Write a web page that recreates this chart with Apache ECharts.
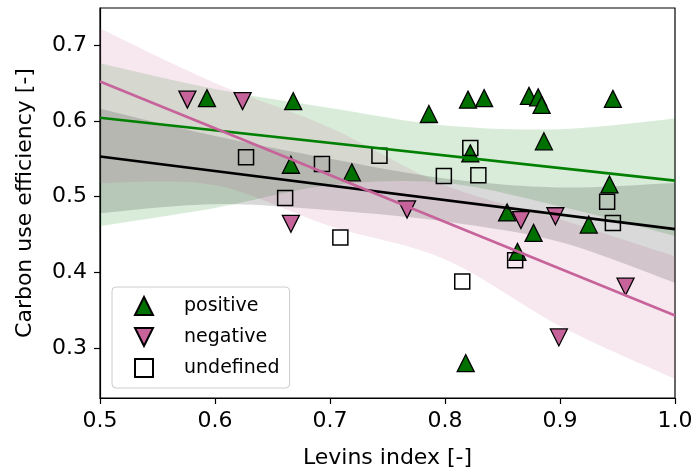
<!DOCTYPE html>
<html><head><meta charset="utf-8">
<script src="https://cdn.jsdelivr.net/npm/echarts@6/dist/echarts.min.js"></script>
<style>html,body{margin:0;padding:0;background:#fff}#c{width:696px;height:476px}</style>
</head><body><div id="c"></div>
<script>
// ---- data ----
const xTicks = [0.5, 0.6, 0.7, 0.8, 0.9, 1.0];
const yTicks = [0.3, 0.4, 0.5, 0.6, 0.7];

const posX = [0.593, 0.668, 0.666, 0.719, 0.786, 0.820, 0.834, 0.873, 0.881, 0.884, 0.946, 0.886, 0.822, 0.943, 0.854, 0.925, 0.877, 0.863, 0.818];
const posY = [0.630, 0.626, 0.542, 0.532, 0.609, 0.628, 0.630, 0.633, 0.631, 0.621, 0.629, 0.573, 0.557, 0.516, 0.479, 0.463, 0.452, 0.427, 0.280];

const negX = [0.576, 0.624, 0.666, 0.767, 0.866, 0.896, 0.957, 0.899];
const negY = [0.628, 0.626, 0.464, 0.483, 0.469, 0.474, 0.381, 0.314];

const undX = [0.627, 0.693, 0.743, 0.661, 0.709, 0.822, 0.799, 0.829, 0.941, 0.946, 0.861, 0.815];
const undY = [0.552, 0.543, 0.554, 0.498, 0.446, 0.564, 0.527, 0.528, 0.493, 0.465, 0.416, 0.388];

const fitX = [0.5, 1.0];
const posFit = [0.604, 0.521];
const negFit = [0.652, 0.343];
const undFit = [0.553, 0.457];

const bandX = [0.5, 0.6, 0.7, 0.8, 0.9, 1.0];
const posUpper = [0.676, 0.642, 0.617, 0.594, 0.589, 0.603];
const posLower = [0.461, 0.485, 0.515, 0.518, 0.487, 0.448];
const negUpper = [0.722, 0.650, 0.591, 0.515, 0.470, 0.421];
const negLower = [0.518, 0.515, 0.461, 0.417, 0.329, 0.259];
const undUpper = [0.616, 0.580, 0.550, 0.524, 0.512, 0.518];
const undLower = [0.478, 0.490, 0.482, 0.467, 0.440, 0.386];

// ---- styling ----
const GREEN = '#008000', GREEN_M = '#007000';
const PINK = '#c6639a';
const FONT = 'DejaVu Sans';

// smooth rendering of a band edge in pixel space (Catmull-Rom -> Bezier sampling)
function smoothEdge(pts) {
  const out = [];
  const n = pts.length;
  for (let i = 0; i < n - 1; i++) {
    const p0 = pts[Math.max(i - 1, 0)], p1 = pts[i], p2 = pts[i + 1], p3 = pts[Math.min(i + 2, n - 1)];
    const c1 = [p1[0] + (p2[0] - p0[0]) / 6, p1[1] + (p2[1] - p0[1]) / 6];
    const c2 = [p2[0] - (p3[0] - p1[0]) / 6, p2[1] - (p3[1] - p1[1]) / 6];
    const steps = 12;
    for (let s = 0; s < steps; s++) {
      const t = s / steps, u = 1 - t;
      out.push([
        u*u*u*p1[0] + 3*u*u*t*c1[0] + 3*u*t*t*c2[0] + t*t*t*p2[0],
        u*u*u*p1[1] + 3*u*u*t*c1[1] + 3*u*t*t*c2[1] + t*t*t*p2[1]
      ]);
    }
  }
  out.push(pts[n - 1]);
  return out;
}

function band(lower, upper, color) {
  return {
    type: 'custom', silent: true, z: 1, clip: true,
    data: [[bandX[0], lower[0]]],
    renderItem: function (params, api) {
      const up = smoothEdge(bandX.map((x, i) => api.coord([x, upper[i]])));
      const lo = smoothEdge(bandX.map((x, i) => api.coord([x, lower[i]])));
      return { type: 'polygon', shape: { points: up.concat(lo.reverse()) }, style: { fill: color } };
    }
  };
}
function fit(vals, color) {
  return { type: 'line', silent: true, symbol: 'none', z: 5,
    data: fitX.map((x, i) => [x, vals[i]]), lineStyle: { color: color, width: 2.6 } };
}

const chart = echarts.init(document.getElementById('c'), null, { renderer: 'canvas' });
chart.setOption({
  animation: false,
  backgroundColor: '#fff',
  textStyle: { fontFamily: FONT },
  grid: { left: 100, right: 21, top: 8, bottom: 78, show: true, borderColor: '#000', borderWidth: 1.2, backgroundColor: 'transparent' },
  xAxis: {
    type: 'value', min: 0.5, max: 1.0, interval: 0.1,
    name: 'Levins index [-]', nameLocation: 'middle', nameGap: 49,
    nameTextStyle: { fontSize: 22, color: '#000', fontFamily: FONT },
    axisLine: { show: true, lineStyle: { color: '#000', width: 1.2 } },
    axisTick: { show: true, length: 6, inside: false, customValues: xTicks, lineStyle: { color: '#000', width: 1.2 } },
    axisLabel: { customValues: xTicks, fontSize: 22, color: '#000', margin: 12, fontFamily: FONT,
      formatter: v => Number(v).toFixed(1) },
    splitLine: { show: false }
  },
  yAxis: {
    type: 'value', min: 0.234, max: 0.749,
    name: 'Carbon use efficiency [-]', nameLocation: 'middle', nameGap: 64,
    nameTextStyle: { fontSize: 22, color: '#000', fontFamily: FONT },
    axisLine: { show: true, lineStyle: { color: '#000', width: 1.2 } },
    axisTick: { show: true, length: 6, inside: false, customValues: yTicks, lineStyle: { color: '#000', width: 1.2 } },
    axisLabel: { customValues: yTicks, fontSize: 22, color: '#000', margin: 13, fontFamily: FONT,
      formatter: v => Number(v).toFixed(1) },
    splitLine: { show: false }
  },
  legend: {
    data: [
      { name: 'positive' },
      { name: 'negative', icon: 'path://M0,0L20,0L10,20Z' },
      { name: 'undefined' }
    ],
    orient: 'vertical', left: 112, top: 287,
    padding: [9, 10, 10, 22], itemGap: 11, itemWidth: 18, itemHeight: 18,
    backgroundColor: '#fff', borderColor: '#cccccc', borderWidth: 1, borderRadius: 4,
    textStyle: { fontSize: 19, color: '#000', fontFamily: FONT, padding: [0, 0, 0, 26] }
  },
  series: [
    band(posLower, posUpper, 'rgba(0,128,0,0.15)'),
    band(negLower, negUpper, 'rgba(198,99,154,0.15)'),
    band(undLower, undUpper, 'rgba(0,0,0,0.15)'),
    { name: 'positive', type: 'scatter', symbol: 'triangle', symbolSize: 17, z: 3,
      data: posX.map((x, i) => [x, posY[i]]),
      itemStyle: { color: GREEN_M, borderColor: '#000', borderWidth: 1.3, opacity: 1 } },
    { name: 'negative', type: 'scatter', symbol: 'triangle', symbolRotate: 180, symbolSize: 17, z: 3,
      data: negX.map((x, i) => [x, negY[i]]),
      itemStyle: { color: PINK, borderColor: '#000', borderWidth: 1.3, opacity: 1 } },
    { name: 'undefined', type: 'scatter', symbol: 'rect', symbolSize: 15, z: 3,
      data: undX.map((x, i) => [x, undY[i]]),
      itemStyle: { color: 'rgba(255,255,255,0)', borderColor: '#000', borderWidth: 1.5, opacity: 1 } },
    fit(posFit, GREEN),
    fit(undFit, '#000'),
    fit(negFit, PINK)
  ]
});
</script>
</body></html>
